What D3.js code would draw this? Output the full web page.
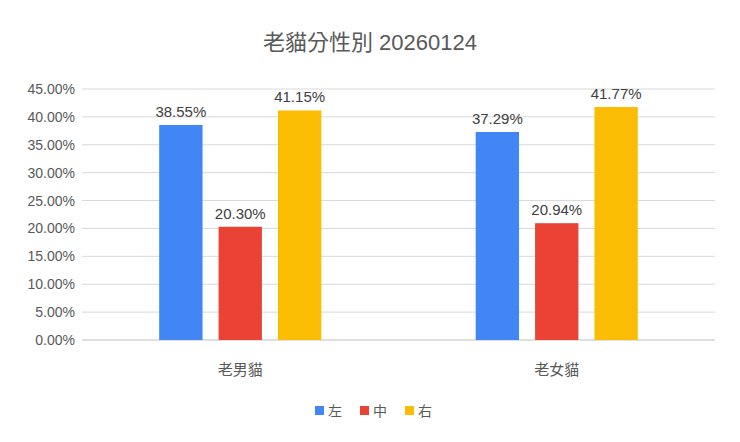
<!DOCTYPE html>
<html><head><meta charset="utf-8">
<script src="https://cdn.jsdelivr.net/npm/d3@7"></script>
<style>body{margin:0;background:#fff}svg{font-family:"Liberation Sans","Noto Sans CJK TC",Arial,sans-serif}</style>
</head><body><svg id="c" width="740" height="442"></svg>
<script>
var categories = ['老男貓', '老女貓'];
var seriesNames = ['左', '中', '右'];
var seriesColors = ['#4285f4', '#ea4335', '#fbbc04'];
var values = [[38.55, 20.30, 41.15], [37.29, 20.94, 41.77]];
var yTicks = [0, 5, 10, 15, 20, 25, 30, 35, 40, 45];

var svg = d3.select('#c');
var plotLeft = 82, plotRight = 715, plotTop = 89, plotBottom = 340;
var y = d3.scaleLinear().domain([0, 45]).range([plotBottom, plotTop]);
var x0 = d3.scaleBand().domain(categories).range([plotLeft, plotRight]);
var x1 = d3.scaleBand().domain(seriesNames).range([0, x0.bandwidth()]).paddingInner(0.27).paddingOuter(1.3);

svg.append('text').attr('x', 370).attr('y', 50).attr('text-anchor', 'middle')
  .attr('font-size', 22).attr('fill', '#595959').text('老貓分性別 20260124');

// gridlines and y labels
yTicks.forEach(function(t) {
  svg.append('line').attr('x1', plotLeft).attr('x2', plotRight).attr('y1', y(t)).attr('y2', y(t))
    .attr('stroke', t === 0 ? '#bfbfbf' : '#d9d9d9');
  svg.append('text').attr('x', 75).attr('y', y(t) + 5).attr('text-anchor', 'end')
    .attr('font-size', 14).attr('fill', '#595959').text(t.toFixed(2) + '%');
});

categories.forEach(function(c, i) {
  var g = svg.append('g').attr('transform', 'translate(' + x0(c) + ',0)');
  values[i].forEach(function(v, j) {
    var s = seriesNames[j];
    g.append('rect').attr('x', x1(s)).attr('width', x1.bandwidth())
      .attr('y', y(v)).attr('height', plotBottom - y(v)).attr('fill', seriesColors[j]);
    g.append('text').attr('x', x1(s) + x1.bandwidth() / 2).attr('y', y(v) - 8)
      .attr('text-anchor', 'middle').attr('font-size', 15).attr('fill', '#404040')
      .text(v.toFixed(2) + '%');
  });
  svg.append('text').attr('x', x0(c) + x0.bandwidth() / 2).attr('y', 375)
    .attr('text-anchor', 'middle').attr('font-size', 15).attr('fill', '#595959').text(c);
});

// legend
var lx = [315, 360, 405];
seriesNames.forEach(function(s, j) {
  svg.append('rect').attr('x', lx[j]).attr('y', 406).attr('width', 9).attr('height', 9).attr('fill', seriesColors[j]);
  svg.append('text').attr('x', lx[j] + 13).attr('y', 416).attr('font-size', 14).attr('fill', '#595959').text(s);
});
</script></body></html>
